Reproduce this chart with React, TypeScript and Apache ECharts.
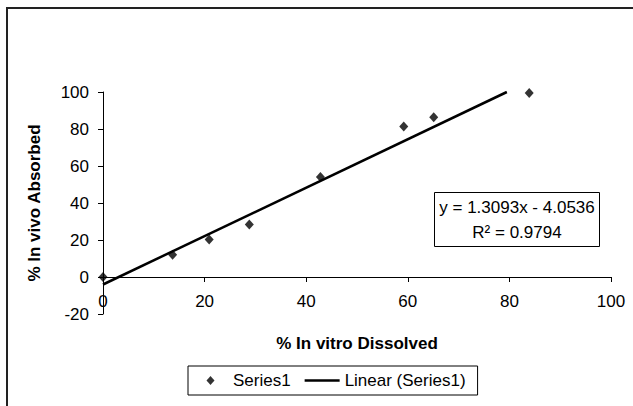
import React, { useEffect, useRef } from "react";
import * as echarts from "echarts";

const dissolved = [0, 13.7, 20.9, 28.8, 42.8, 59.2, 65.1, 83.9];
const absorbed = [0, 12.0, 20.3, 28.4, 54.1, 81.4, 86.4, 99.5];
const trendX = [0, 79.5];
const trendY = [-4.0536, 100];
const xTicks = { min: 0, max: 100, interval: 20 };
const yTicks = { min: -20, max: 100, interval: 20 };
const equationText = "y = 1.3093x - 4.0536";
const r2Text = "R² = 0.9794";

const FONT = "Arial, 'Liberation Sans', sans-serif";
const FS = 17;

export default function App() {
  const ref = useRef<HTMLDivElement>(null);
  useEffect(() => {
    if (!ref.current) return;
    const chart = echarts.init(ref.current, undefined, { renderer: "svg" });
    chart.setOption({
      animation: false,
      backgroundColor: "#ffffff",
      textStyle: { fontFamily: FONT },
      grid: { left: 103, right: 22, top: 92, bottom: 92 },
      xAxis: {
        type: "value",
        min: xTicks.min,
        max: xTicks.max,
        interval: xTicks.interval,
        offset: -37,
        name: "% In vitro Dissolved",
        nameLocation: "middle",
        nameGap: 58,
        nameTextStyle: { fontSize: FS, fontWeight: "bold", color: "#000", fontFamily: FONT },
        axisLine: { onZero: false, lineStyle: { color: "#000", width: 1 } },
        axisTick: { show: true, length: 5, lineStyle: { color: "#000" } },
        axisLabel: { fontSize: FS, color: "#000", margin: 16, fontFamily: FONT },
        splitLine: { show: false },
      },
      yAxis: {
        type: "value",
        min: yTicks.min,
        max: yTicks.max,
        interval: yTicks.interval,
        name: "% In vivo Absorbed",
        nameLocation: "middle",
        nameGap: 60,
        nameTextStyle: { fontSize: FS, fontWeight: "bold", color: "#000", fontFamily: FONT },
        axisLine: { show: true, onZero: false, lineStyle: { color: "#000", width: 1 } },
        axisTick: { show: true, length: 5, lineStyle: { color: "#000" } },
        axisLabel: { fontSize: FS, color: "#000", margin: 14, fontFamily: FONT },
        splitLine: { show: false },
      },
      legend: {
        left: 188,
        top: 366,
        orient: "horizontal",
        padding: [6, 12, 6, 5],
        borderColor: "#000",
        borderWidth: 1,
        itemWidth: 35,
        itemHeight: 9,
        itemGap: 14,
        symbolKeepAspect: true,
        textStyle: { fontSize: FS, color: "#000", fontFamily: FONT },
        data: [
          {
            name: "Series1",
            icon: "path://M0,4.5 L0,4.5 M17.5,0 L21.5,4.5 L17.5,9 L13.5,4.5 Z M35,4.5 L35,4.5",
            itemStyle: { color: "#000" },
          },
          {
            name: "Linear (Series1)",
            icon: "path://M0,0 L35,0 L35,2.5 L0,2.5 Z",
            itemStyle: { color: "#000" },
          },
        ],
      },
      series: [
        {
          name: "Series1",
          type: "scatter",
          symbol: "diamond",
          symbolSize: [9, 10],
          itemStyle: { color: "#000" },
          data: dissolved.map((x, i) => [x, absorbed[i]]),
          z: 3,
        },
        {
          name: "Linear (Series1)",
          type: "line",
          symbol: "none",
          itemStyle: { color: "#000" },
          lineStyle: { color: "#000", width: 2.5 },
          data: trendX.map((x, i) => [x, trendY[i]]),
          z: 2,
        },
      ],
      graphic: [
        {
          type: "rect",
          shape: { x: 7, y: 8, width: 650, height: 420 },
          style: { fill: "none", stroke: "#222", lineWidth: 2 },
          silent: true,
        },
        {
          type: "rect",
          shape: { x: 434.5, y: 192.5, width: 165, height: 54 },
          style: { fill: "#fff", stroke: "#000", lineWidth: 1 },
          z: 10,
        },
        {
          type: "text",
          x: 517,
          y: 207,
          style: { text: equationText, font: `${FS}px ${FONT}`, fill: "#000", align: "center", verticalAlign: "middle" },
          z: 11,
        },
        {
          type: "text",
          x: 517,
          y: 232,
          style: { text: r2Text, font: `${FS}px ${FONT}`, fill: "#000", align: "center", verticalAlign: "middle" },
          z: 11,
        },
      ],
    });
    return () => chart.dispose();
  }, []);
  return (
    <div
      ref={ref}
      style={{ position: "fixed", left: 0, top: 0, width: 633, height: 406 }}
    />
  );
}
